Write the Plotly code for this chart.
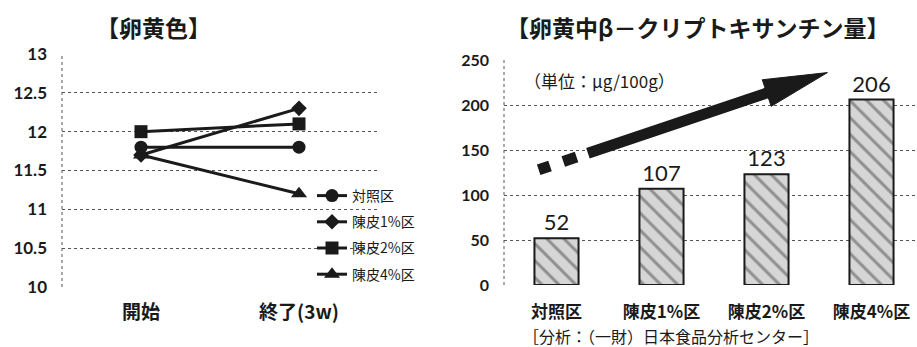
import math
import plotly.graph_objects as go

# ---------------- data ----------------
left_title = "【卵黄色】"
left_categories = ["開始", "終了(3w)"]
series_names = ["対照区", "陳皮1%区", "陳皮2%区", "陳皮4%区"]
control_vals = [11.8, 11.8]
chenpi1_vals = [11.7, 12.3]
chenpi2_vals = [12.0, 12.1]
chenpi4_vals = [11.7, 11.2]
left_ticks = [10, 10.5, 11, 11.5, 12, 12.5, 13]
left_ticklabels = ["10", "10.5", "11", "11.5", "12", "12.5", "13"]

right_title = "【卵黄中β－クリプトキサンチン量】"
right_categories = ["対照区", "陳皮1%区", "陳皮2%区", "陳皮4%区"]
crypto_vals = [52, 107, 123, 206]
right_ticks = [0, 50, 100, 150, 200, 250]
unit_text = "（単位：μg/100g）"
source_text = "［分析：（一財）日本食品分析センター］"

# ---------------- layout constants ----------------
W, H = 917, 347
JP = "Noto Sans CJK JP"
INK = "#1a1a1a"

L_x0, L_x1 = 62, 378
L_ytop, L_ybot = 54, 287
R_x0, R_x1 = 504, 917
R_ytop, R_ybot = 60, 285
R_cat_w = 105
R_range = [-0.5, -0.5 + (R_x1 - R_x0) / R_cat_w]

fig = go.Figure()

markers = ["circle", "diamond", "square", "triangle-up"]
msizes = [13, 12, 13, 14]
for name, vals, sym, ms in zip(series_names,
                               [control_vals, chenpi1_vals, chenpi2_vals, chenpi4_vals],
                               markers, msizes):
    fig.add_trace(go.Scatter(
        x=left_categories, y=vals, name=name, mode="lines+markers",
        line=dict(color=INK, width=3),
        marker=dict(symbol=sym, size=ms, color=INK),
        xaxis="x", yaxis="y", legendgroup=name,
    ))

fig.add_trace(go.Bar(
    x=right_categories, y=crypto_vals, width=0.42,
    text=[str(v) for v in crypto_vals], textposition="outside",
    textfont=dict(family="Lato, Carlito, sans-serif", size=22, color=INK),
    cliponaxis=False,
    marker=dict(color="#cfcfcf", line=dict(color=INK, width=2),
                pattern=dict(shape="\\", fgcolor="#8f8f8f", bgcolor="#d6d6d6",
                             size=12, solidity=0.25)),
    xaxis="x2", yaxis="y2", showlegend=False,
))

grid = dict(showgrid=True, gridcolor="#555", griddash="dot", gridwidth=1)

fig.update_layout(
    template="none",
    width=W, height=H, margin=dict(l=0, r=0, t=0, b=0, autoexpand=False),
    paper_bgcolor="white", plot_bgcolor="white",
    font=dict(family=JP, color=INK),
    xaxis=dict(domain=[L_x0 / W, L_x1 / W], type="category", range=[-0.5, 1.5],
               showline=False, showgrid=False, zeroline=False, automargin=False,
               tickfont=dict(family=JP, size=19, color=INK, weight="bold"),
               ticklabelstandoff=12, ticks=""),
    yaxis=dict(domain=[1 - L_ybot / H, 1 - L_ytop / H], range=[10, 13],
               tickvals=left_ticks, ticktext=left_ticklabels, automargin=False,
               tickfont=dict(family="Lato, sans-serif", size=17, color=INK, weight="bold"),
               ticklabelstandoff=14, zeroline=False, ticks="",
               showline=False, **grid),
    xaxis2=dict(domain=[R_x0 / W, 1.0], type="category", range=R_range,
                showline=False, showgrid=False, zeroline=False, automargin=False,
                tickfont=dict(family=JP, size=17, color=INK, weight="bold"),
                ticklabelstandoff=13, ticks=""),
    yaxis2=dict(domain=[1 - R_ybot / H, 1 - R_ytop / H], range=[0, 250],
                tickvals=right_ticks, anchor="x2", automargin=False,
                tickfont=dict(family="Lato, sans-serif", size=16, color=INK, weight="bold"),
                ticklabelstandoff=14, zeroline=False, ticks="",
                showline=False, **grid),
    legend=dict(x=312 / W, y=1 - 180 / H, xanchor="left", yanchor="top",
                bgcolor="rgba(0,0,0,0)", font=dict(family=JP, size=14, color=INK),
                tracegroupgap=5, itemwidth=30),
    showlegend=True,
)

# dotted value-axis lines
for xr, yr in [("x", "y"), ("x2", "y2")]:
    fig.add_shape(type="line", xref=f"{xr} domain", yref=f"{yr} domain",
                  x0=0, x1=0, y0=0, y1=1, line=dict(color="#555", width=1, dash="dot"))

# titles and notes
fig.add_annotation(text=left_title, x=153 / W, y=1 - 27 / H, xref="paper", yref="paper",
                   xanchor="center", yanchor="middle",
                   showarrow=False, font=dict(family=JP, size=23, color=INK, weight="bold"))
fig.add_annotation(text=right_title, x=697 / W, y=1 - 27 / H, xref="paper", yref="paper",
                   xanchor="center", yanchor="middle",
                   showarrow=False, font=dict(family=JP, size=23, color=INK, weight="bold"))
fig.add_annotation(text=unit_text, x=522 / W, y=1 - 80 / H, xref="paper", yref="paper",
                   xanchor="left", yanchor="middle",
                   showarrow=False, font=dict(family=JP, size=17, color=INK))
fig.add_annotation(text=source_text, x=671 / W, y=1 - 336 / H, xref="paper", yref="paper",
                   xanchor="center", yanchor="middle",
                   showarrow=False, font=dict(family=JP, size=16, color=INK))

# trend arrow (decoration), defined in data units of the right chart
def px(i, v):
    return (R_x0 + (i - R_range[0]) * R_cat_w,
            R_ybot - v * (R_ybot - R_ytop) / 250)

def data(xp, yp):
    return (R_range[0] + (xp - R_x0) / R_cat_w,
            (R_ybot - yp) * 250 / (R_ybot - R_ytop))

tail = px(-0.17, 128)
tip = px(2.58, 236)
dx, dy = tip[0] - tail[0], tip[1] - tail[1]
L = math.hypot(dx, dy)
ux, uy = dx / L, dy / L
nx, ny = -uy, ux
head_len, head_half, shaft_w = 64, 14, 11

def along(t, off=0):
    return data(tail[0] + ux * t + nx * off, tail[1] + uy * t + ny * off)

# dashed start
for t0, t1 in [(0, 12), (26, 40)]:
    a, b = along(t0), along(t1)
    fig.add_shape(type="line", xref="x2", yref="y2", x0=a[0], y0=a[1], x1=b[0], y1=b[1],
                  line=dict(color=INK, width=shaft_w))
# solid shaft
a, b = along(52), along(L - head_len + 2)
fig.add_shape(type="line", xref="x2", yref="y2", x0=a[0], y0=a[1], x1=b[0], y1=b[1],
              line=dict(color=INK, width=shaft_w))
# head
p1 = along(L - head_len, head_half)
p2 = along(L - head_len, -head_half)
p3 = along(L)
fig.add_shape(type="path", xref="x2", yref="y2",
              path=f"M {p1[0]},{p1[1]} L {p3[0]},{p3[1]} L {p2[0]},{p2[1]} Z",
              fillcolor=INK, line=dict(color=INK, width=1))

fig.write_html("out.html", config={"displayModeBar": False},
               post_script="document.body.style.margin='0';document.body.style.overflow='hidden';")
